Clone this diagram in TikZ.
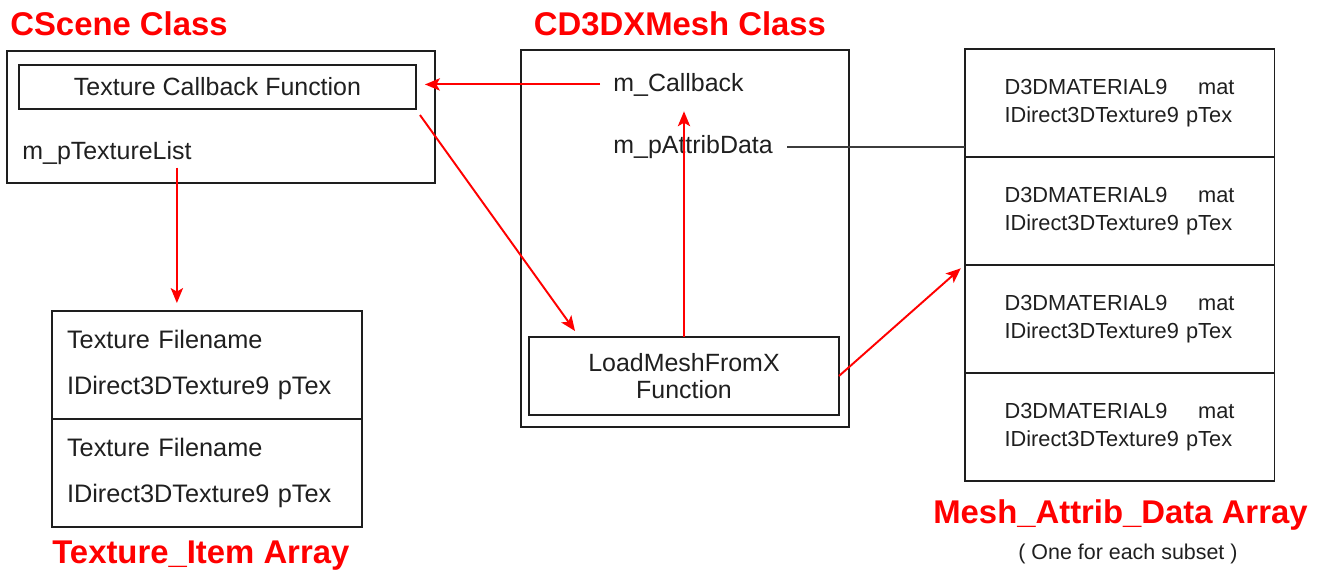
\documentclass[tikz,border=0pt]{standalone}
\usepackage{fontspec}
\setmainfont{Liberation Sans}
\usetikzlibrary{positioning,arrows.meta}
\definecolor{boxline}{RGB}{30,30,30}
\definecolor{linkgray}{RGB}{60,60,60}
\tikzset{
  heading/.style={font=\fontsize{18.7pt}{22pt}\selectfont\bfseries, text=red, inner sep=0pt},
  memberlabel/.style={font=\fontsize{14.2pt}{17pt}\selectfont, inner sep=0pt, text=black!88},
  classbox/.style={draw=boxline, line width=1.1pt, inner sep=0pt, outer sep=0pt},
  cellbox/.style={classbox, minimum width=6.2cm, minimum height=2.16cm, text=black!88},
  texcell/.style={cellbox, align=left, text width=5.6cm, inner xsep=0.3cm, font=\fontsize{14.4pt}{26pt}\selectfont},
  matcell/.style={cellbox, align=left, text width=4.6cm, inner xsep=0.8cm, font=\fontsize{12.4pt}{15.9pt}\selectfont},
  callarrow/.style={draw=red, line width=1.1pt, -{Stealth[length=8.5pt,width=7pt,inset=2pt]}},
}
\begin{document}
\begin{tikzpicture}[x=0.02cm, y=-0.02cm]
    \useasboundingbox (0,0) rectangle (1322,572);

    \node[heading, anchor=base west] (sct) at (10,35)  {CScene Class};
    \node[heading, anchor=base]      (mst) at (680,35) {CD3DXMesh Class};
    \node[heading, anchor=base west] (tit) at (52,563) {Texture\_Item Array};
    \node[heading, anchor=base west] (mat) at (933,523) {Mesh\_Attrib\_Data Array};
    \node[memberlabel, anchor=base west, font=\fontsize{12.2pt}{14pt}\selectfont] (sub) at (1018,559) {( One for each subset )};

    \node[classbox, minimum width=8.56cm, minimum height=2.64cm] (sc) at (221,117) {};
    \node[classbox, memberlabel, minimum width=7.94cm, minimum height=0.88cm] (cb) at (217.5,87) {Texture Callback Function};
    \node[memberlabel, anchor=base west] (tl) at (22,159) {m\_pTextureList};

    \node[classbox, minimum width=6.56cm, minimum height=7.54cm] (ms) at (685,238.5) {};
    \node[memberlabel, anchor=base west] (mc) at (613,91)  {m\_Callback};
    \node[memberlabel, anchor=base west] (ad) at (613,153) {m\_pAttribData};
    \node[classbox, memberlabel, minimum width=6.2cm, minimum height=1.56cm, align=center,
          font=\fontsize{14.2pt}{15.3pt}\selectfont] (lm) at (684,376) {LoadMeshFromX\\Function};

    \node[texcell]                (t1) at (207,365) {Texture Filename\\IDirect3DTexture9 pTex};
    \node[texcell, below=0pt of t1] (t2)            {Texture Filename\\IDirect3DTexture9 pTex};

    \node[matcell]                (m1) at (1119.5,103) {D3DMATERIAL9\hfill mat\\IDirect3DTexture9 pTex};
    \node[matcell, below=0pt of m1] (m2)               {D3DMATERIAL9\hfill mat\\IDirect3DTexture9 pTex};
    \node[matcell, below=0pt of m2] (m3)               {D3DMATERIAL9\hfill mat\\IDirect3DTexture9 pTex};
    \node[matcell, below=0pt of m3] (m4)               {D3DMATERIAL9\hfill mat\\IDirect3DTexture9 pTex};

    \coordinate (drop) at ([xshift=-0.3cm, yshift=-0.06cm]tl.south east);

    \draw[callarrow, shorten <=0.26cm, shorten >=0.18cm] (mc.west) -- (mc.west -| cb.east);
    \draw[callarrow, shorten >=0.16cm] (drop) -- (drop |- t1.north);
    \draw[callarrow] ([xshift=0.08cm, yshift=-0.12cm]cb.south east) -- ([xshift=0.92cm, yshift=0.12cm]lm.north west);
    \draw[callarrow, shorten >=0.3cm] (lm.north) -- (lm.north |- mc.south);
    \draw[callarrow, shorten >=0.1cm] (lm.east) -- (m2.south west);
    \draw[linkgray, line width=1.1pt, shorten <=0.28cm] (ad.east) -- (ad.east -| m1.west);
\end{tikzpicture}
\end{document}
